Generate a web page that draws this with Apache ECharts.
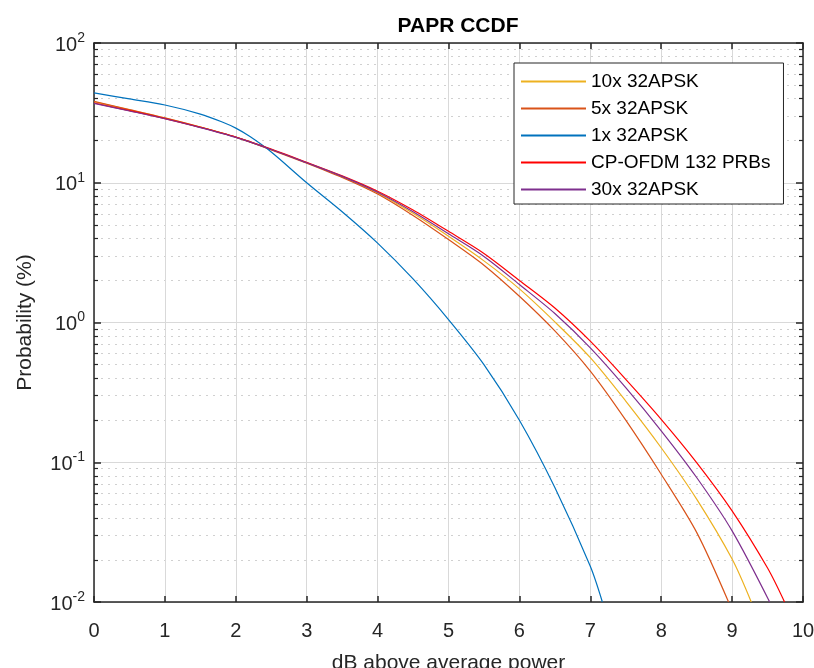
<!DOCTYPE html>
<html><head><meta charset="utf-8">
<script src="https://cdn.jsdelivr.net/npm/echarts@6/dist/echarts.min.js"></script>
<style>html,body{margin:0;padding:0;background:#fff}#c{width:814px;height:668px}</style>
</head><body><div id="c"></div>
<script>
// ---- data ----
const titleText = 'PAPR CCDF';
const xName = 'dB above average power';
const yName = 'Probability (%)';
const seriesNames = ['10x 32APSK', '5x 32APSK', '1x 32APSK', 'CP-OFDM 132 PRBs', '30x 32APSK'];
const seriesColors = ['#EDB120', '#D95319', '#0072BD', '#FF0000', '#7E2F8E'];
const xTickValues = [0, 1, 2, 3, 4, 5, 6, 7, 8, 9, 10];
const yDecades = [0.01, 0.1, 1, 10, 100];

const x10 = [0, 0.5, 1, 1.5, 2, 2.5, 3, 3.5, 4, 4.5, 5, 5.5, 6, 6.5, 7, 7.5, 8, 8.5, 9, 9.27];
const y10 = [38, 33.2, 29, 25, 21.2, 17.3, 13.9, 11.0, 8.45, 6.04, 4.14, 2.76, 1.74, 1.01, 0.56, 0.274, 0.127, 0.0545, 0.0203, 0.01];

const x5 = [0, 0.5, 1, 1.5, 2, 2.5, 3, 3.5, 4, 4.5, 5, 5.5, 6, 6.5, 7, 7.5, 8, 8.5, 8.95];
const y5 = [38.2, 33.4, 29.1, 25, 21.2, 17.2, 13.8, 10.9, 8.3, 5.83, 3.92, 2.57, 1.54, 0.87, 0.449, 0.2, 0.082, 0.0315, 0.01];

const x1 = [0, 0.5, 1, 1.5, 1.8, 2, 2.2, 2.5, 3, 3.5, 4, 4.5, 5, 5.5, 6, 6.5, 7, 7.17];
const y1 = [43.9, 39.8, 36, 31, 27.3, 24.6, 21.4, 16.6, 10, 6.2, 3.7, 2.05, 1.05, 0.5, 0.2, 0.066, 0.018, 0.01];

const xCp = [0, 0.5, 1, 1.5, 2, 2.5, 3, 3.5, 4, 4.5, 5, 5.5, 6, 6.5, 7, 7.5, 8, 8.5, 9, 9.5, 9.74];
const yCp = [37.2, 32.8, 28.8, 24.9, 21.2, 17.4, 14.0, 11.2, 8.7, 6.38, 4.49, 3.12, 2.0, 1.27, 0.735, 0.392, 0.203, 0.0995, 0.0449, 0.0175, 0.01];

const x30 = [0, 0.5, 1, 1.5, 2, 2.5, 3, 3.5, 4, 4.5, 5, 5.5, 6, 6.5, 7, 7.5, 8, 8.5, 9, 9.53];
const y30 = [37.0, 32.6, 28.7, 24.8, 21.1, 17.3, 13.9, 11.1, 8.55, 6.2, 4.31, 2.97, 1.87, 1.16, 0.659, 0.342, 0.168, 0.0778, 0.0323, 0.01];

// ---- build ----
const seriesX = [x10, x5, x1, xCp, x30];
const seriesY = [y10, y5, y1, yCp, y30];
const minorLog = [];
for (let k = -2; k < 2; k++) for (let d = 2; d <= 9; d++) minorLog.push(Math.log10(d) + k);

const FONT = 'Liberation Sans, Arial, Helvetica, sans-serif';
const AX = '#262626';
const GRID = { left: 94, right: 11, top: 43, bottom: 66, outerBoundsMode: 'none', containLabel: false };

const series = seriesNames.map((n, i) => ({
  name: n, type: 'line', xAxisIndex: 0, yAxisIndex: 0,
  data: seriesX[i].map((x, j) => [x, seriesY[i][j]]),
  showSymbol: false, symbol: 'none', smooth: 0.3,
  lineStyle: { color: seriesColors[i], width: 1.2 },
  itemStyle: { color: seriesColors[i] },
  z: 10 + i, animation: false
}));

const option = {
  animation: false,
  backgroundColor: '#fff',
  title: { text: titleText, left: 453, textAlign: 'center', top: 11,
    textStyle: { fontFamily: FONT, fontSize: 21, fontWeight: 'bold', color: '#000' } },
  grid: GRID,
  legend: {
    data: seriesNames, orient: 'vertical', left: 514, top: 63,
    backgroundColor: '#fff', borderColor: AX, borderWidth: 1,
    padding: [9, 13, 5, 7], itemGap: 8, itemWidth: 65, itemHeight: 2, icon: 'rect',
    textStyle: { fontFamily: FONT, fontSize: 19, color: '#000', lineHeight: 18 }
  },
  xAxis: [
    { type: 'value', min: 0, max: 10, interval: 1, position: 'bottom',
      name: xName, nameLocation: 'middle', nameGap: 51,
      nameTextStyle: { fontFamily: FONT, fontSize: 21, color: '#262626' },
      axisLine: { show: true, onZero: false, lineStyle: { color: AX, width: 1.5 } },
      axisTick: { show: true, inside: true, length: 6, lineStyle: { color: AX, width: 1.5 } },
      axisLabel: { fontFamily: FONT, fontSize: 20, color: '#262626', margin: 19 },
      splitLine: { show: true, lineStyle: { color: '#d9d9d9', width: 1 } } },
    { type: 'value', min: 0, max: 10, interval: 1, position: 'top',
      axisLine: { show: true, onZero: false, lineStyle: { color: AX, width: 1.5 } },
      axisTick: { show: true, inside: true, length: 6, lineStyle: { color: AX, width: 1.5 } },
      axisLabel: { show: false }, splitLine: { show: false } }
  ],
  yAxis: [
    { type: 'log', logBase: 10, min: 0.01, max: 100, position: 'left',
      name: yName, nameLocation: 'middle', nameGap: 58, nameRotate: 90,
      nameTextStyle: { fontFamily: FONT, fontSize: 21, color: '#262626' },
      axisLine: { show: true, onZero: false, lineStyle: { color: AX, width: 1.5 } },
      axisTick: { show: true, inside: true, length: 7, lineStyle: { color: AX, width: 1.5 } },
      axisLabel: { margin: 9, fontFamily: FONT, color: '#262626',
        formatter: v => '{b|10}{s|' + Math.round(Math.log10(v)) + '}',
        rich: { b: { fontFamily: FONT, fontSize: 20, color: '#262626', lineHeight: 24, verticalAlign: 'bottom' },
                s: { fontFamily: FONT, fontSize: 14, color: '#262626', lineHeight: 24, verticalAlign: 'top', padding: [0, 0, 12, 0] } } },
      splitLine: { show: true, lineStyle: { color: '#d9d9d9', width: 1 } } },
    { type: 'value', min: -2, max: 2, position: 'left',
      axisLine: { show: false, onZero: false },
      axisTick: { show: true, inside: true, length: 4, customValues: minorLog, lineStyle: { color: AX, width: 1.2 } },
      axisLabel: { show: false },
      splitLine: { show: true, lineStyle: { color: '#d0d0d0', width: 1, type: [2, 5] } } },
    { type: 'log', logBase: 10, min: 0.01, max: 100, position: 'right',
      axisLine: { show: true, onZero: false, lineStyle: { color: AX, width: 1.5 } },
      axisTick: { show: true, inside: true, length: 7, lineStyle: { color: AX, width: 1.5 } },
      axisLabel: { show: false }, splitLine: { show: false } },
    { type: 'value', min: -2, max: 2, position: 'right',
      axisLine: { show: false, onZero: false },
      axisTick: { show: true, inside: true, length: 4, customValues: minorLog, lineStyle: { color: AX, width: 1.2 } },
      axisLabel: { show: false }, splitLine: { show: false } }
  ],
  series: series
};
const chart = echarts.init(document.getElementById('c'), null, { renderer: 'canvas' });
chart.setOption(option);
</script></body></html>
